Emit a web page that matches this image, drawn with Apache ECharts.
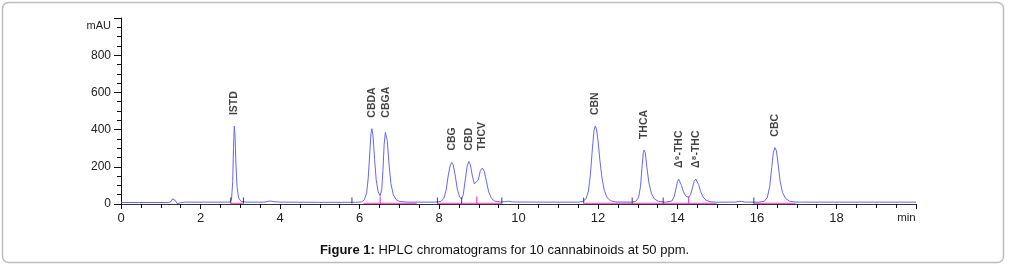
<!DOCTYPE html>
<html>
<head>
<meta charset="utf-8">
<script src="https://cdn.jsdelivr.net/npm/echarts@6/dist/echarts.min.js"></script>
<style>
  html, body { margin: 0; padding: 0; background: #fff; }
  #chart { width: 1009px; height: 272px; }
</style>
</head>
<body>
<div id="chart"></div>
<script>
// chromatogram trace: [time (min), signal (mAU)]
const trace = [
  [0.00, 8], [1.20, 8], [1.26, 14], [1.30, 28], [1.33, 34], [1.37, 18], [1.41, 2], [1.44, -2], [1.49, 6], [1.60, 10],
  [2.50, 10], [2.74, 10], [2.78, 22], [2.81, 120], [2.83, 300], [2.85, 419], [2.87, 360], [2.89, 220], [2.92, 90], [2.96, 32],
  [3.02, 14], [3.15, 10], [3.60, 10], [3.70, 14], [3.76, 16], [3.85, 12], [4.00, 10], [5.00, 9], [5.90, 9],
  [6.05, 11], [6.12, 22], [6.18, 60], [6.22, 140], [6.26, 280], [6.29, 380], [6.31, 405], [6.34, 370], [6.38, 240], [6.42, 130],
  [6.47, 65], [6.52, 44], [6.56, 80], [6.59, 180], [6.62, 320], [6.65, 385], [6.67, 392], [6.70, 340], [6.74, 220], [6.79, 110],
  [6.85, 50], [6.92, 24], [7.00, 14], [7.20, 10], [7.90, 10],
  [8.05, 14], [8.12, 30], [8.18, 75], [8.23, 150], [8.28, 205], [8.32, 223], [8.36, 210], [8.41, 150], [8.46, 80], [8.52, 38],
  [8.57, 27], [8.61, 50], [8.66, 130], [8.71, 205], [8.75, 228], [8.79, 210], [8.84, 150], [8.89, 108], [8.94, 99], [8.99, 130],
  [9.04, 180], [9.09, 193], [9.14, 175], [9.19, 125], [9.25, 65], [9.32, 30], [9.40, 16], [9.55, 11], [9.68, 13], [9.75, 15],
  [9.85, 11], [10.50, 10], [11.50, 10],
  [11.62, 14], [11.70, 28], [11.76, 70], [11.81, 160], [11.86, 300], [11.90, 395], [11.93, 419], [11.96, 405], [12.00, 340],
  [12.05, 230], [12.10, 140], [12.16, 72], [12.23, 34], [12.32, 17], [12.45, 11], [12.85, 10],
  [12.95, 14], [13.02, 35], [13.07, 95], [13.11, 205], [13.14, 275], [13.16, 290], [13.19, 275], [13.23, 195], [13.28, 115],
  [13.34, 58], [13.42, 27], [13.52, 14], [13.70, 10],
  [13.86, 16], [13.92, 42], [13.97, 90], [14.00, 122], [14.03, 134], [14.06, 128], [14.10, 100], [14.15, 65], [14.21, 42],
  [14.28, 36], [14.33, 50], [14.38, 90], [14.42, 122], [14.46, 134], [14.49, 128], [14.53, 105], [14.58, 68], [14.64, 38],
  [14.72, 20], [14.82, 12], [14.95, 10], [15.45, 10], [15.55, 14], [15.62, 14], [15.70, 10],
  [16.05, 10], [16.18, 14], [16.26, 35], [16.32, 95], [16.37, 195], [16.41, 275], [16.45, 303], [16.49, 285], [16.53, 215],
  [16.58, 125], [16.64, 62], [16.72, 30], [16.82, 15], [16.95, 11], [17.10, 10], [20.00, 10]
];

// peaks
const peakNames = ['ISTD', 'CBDA', 'CBGA', 'CBG', 'CBD', 'THCV', 'CBN', 'THCA', 'Δ⁹-THC', 'Δ⁸-THC', 'CBC'];
const peakTimes = [2.85, 6.31, 6.67, 8.32, 8.75, 9.09, 11.93, 13.16, 14.03, 14.46, 16.45];
const peakHeights = [419, 405, 392, 223, 228, 193, 419, 290, 134, 134, 303];

// integration baselines [start, end] and event marks (min)
const baselineSegments = [[2.76, 3.08], [6.10, 7.44], [7.96, 9.58], [11.64, 14.98], [15.92, 16.97]];
const baselineLevel = 3;
const blackEvents = [2.76, 3.08, 5.81, 7.96, 8.57, 9.58, 11.64, 12.86, 13.64, 15.92];
const pinkEvents = [6.52, 8.95, 14.28];

var chart = echarts.init(document.getElementById('chart'));

// labels in one cluster (peaks closer than 0.5 min) sit at the same height
const labelLevel = peakTimes.map(function (t, i) {
  var lvl = peakHeights[i];
  var j = i;
  while (j > 0 && peakTimes[j] - peakTimes[j - 1] < 0.5) { j--; lvl = Math.max(lvl, peakHeights[j]); }
  j = i;
  while (j < peakTimes.length - 1 && peakTimes[j + 1] - peakTimes[j] < 0.5) { j++; lvl = Math.max(lvl, peakHeights[j]); }
  return lvl;
});

var baseData = [];
baselineSegments.forEach(function (s) {
  baseData.push([s[0], baselineLevel], [s[1], baselineLevel], [s[1], null]);
});

var font = 'Liberation Sans, Arial';

chart.setOption({
  animation: false,
  title: {
    text: '{b|Figure 1:} HPLC chromatograms for 10 cannabinoids at 50 ppm.',
    left: 'center',
    top: 239,
    textStyle: {
      fontFamily: font,
      fontSize: 13,
      fontWeight: 'normal',
      color: '#111',
      rich: {
        b: { fontFamily: font, fontSize: 13, fontWeight: 'bold', color: '#111' }
      }
    }
  },
  graphic: [{
    type: 'rect',
    shape: { x: 2.5, y: 2.5, width: 1001, height: 260, r: 6 },
    style: { fill: 'none', stroke: '#bdbdbd', lineWidth: 1.5 },
    silent: true
  }],
  grid: { left: 121, right: 93, top: 18, bottom: 68 },
  xAxis: {
    type: 'value',
    min: 0,
    max: 20,
    interval: 2,
    offset: 1,
    axisLine: { lineStyle: { color: '#333', width: 1 } },
    axisTick: { show: true, length: 5, lineStyle: { color: '#111' } },
    minorTick: { show: true, splitNumber: 4, length: 4, lineStyle: { color: '#111' } },
    splitLine: { show: false },
    axisLabel: {
      showMaxLabel: true,
      margin: 7,
      fontFamily: font,
      fontSize: 13,
      color: '#222',
      formatter: function (v) { return v === 20 ? '{m|min}' : String(v); },
      rich: { m: { fontFamily: font, fontSize: 11.5, color: '#222', padding: [0, 19, 0, 0] } }
    }
  },
  yAxis: {
    type: 'value',
    min: 0,
    max: 1000,
    interval: 200,
    axisLine: { show: true, lineStyle: { color: '#111', width: 1 } },
    axisTick: { show: true, length: 7, lineStyle: { color: '#111' } },
    minorTick: { show: true, splitNumber: 4, length: 4, lineStyle: { color: '#111' } },
    splitLine: { show: false },
    axisLabel: {
      showMaxLabel: true,
      margin: 10,
      fontFamily: font,
      fontSize: 12,
      color: '#222',
      formatter: function (v) { return v === 1000 ? '{u|mAU}' : String(v); },
      rich: { u: { fontFamily: font, fontSize: 11, color: '#222', padding: [16, 0, 0, 0] } }
    }
  },
  series: [
    {
      name: 'baseline',
      type: 'line',
      data: baseData,
      symbol: 'none',
      connectNulls: false,
      lineStyle: { color: '#ff5fd0', width: 1.2 },
      z: 2
    },
    {
      name: 'signal',
      type: 'line',
      data: trace,
      symbol: 'none',
      lineStyle: { color: '#6666f4', width: 1 },
      z: 3
    },
    {
      name: 'events',
      type: 'scatter',
      data: blackEvents.map(function (t) { return [t, baselineLevel]; }),
      symbol: 'rect',
      symbolSize: [1, 6],
      symbolOffset: [0, -3],
      itemStyle: { color: '#111' },
      z: 4
    },
    {
      name: 'splits',
      type: 'scatter',
      data: pinkEvents.map(function (t) { return [t, baselineLevel]; }),
      symbol: 'rect',
      symbolSize: [1.2, 7],
      symbolOffset: [0, -3.5],
      itemStyle: { color: '#e020c8' },
      z: 4
    },
    {
      name: 'peaks',
      type: 'scatter',
      data: peakTimes.map(function (t, i) { return { value: [t, labelLevel[i]], name: peakNames[i] }; }),
      symbolSize: 0,
      silent: true,
      label: {
        show: true,
        position: 'top',
        distance: 11,
        rotate: 90,
        align: 'left',
        verticalAlign: 'middle',
        formatter: '{b}',
        fontFamily: font,
        fontSize: 10.5,
        fontWeight: 'bold',
        color: '#111'
      },
      z: 5
    }
  ]
});
</script>
</body>
</html>
